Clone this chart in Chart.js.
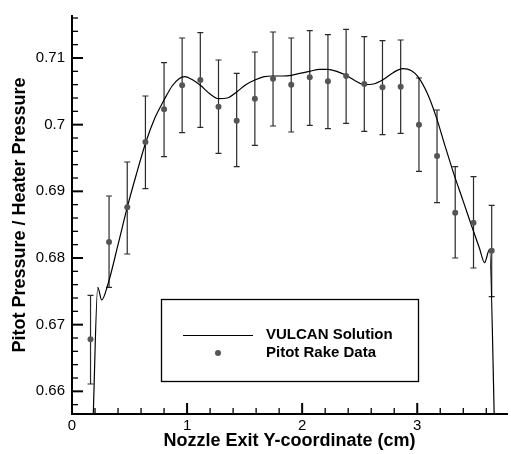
<!DOCTYPE html>
<html>
<head>
<meta charset="utf-8">
<script src="https://cdn.jsdelivr.net/npm/chart.js@4.4.1/dist/chart.umd.min.js"></script>
<style>
  html, body { margin: 0; padding: 0; background: #fff; }
  canvas { display: block; }
</style>
</head>
<body>
<canvas id="chart" width="511" height="454"></canvas>
<script>
// pitot rake measurements (cm, p/p0) with error bar ends
const rakeX = [0.161, 0.322, 0.48, 0.638, 0.80, 0.957, 1.115, 1.273, 1.431, 1.589, 1.747, 1.905,
  2.066, 2.224, 2.382, 2.54, 2.698, 2.856, 3.015, 3.172, 3.33, 3.489, 3.647];
const rakeY = [0.6678, 0.6824, 0.6876, 0.6974, 0.7023, 0.7059, 0.7067, 0.7027, 0.7006, 0.7039, 0.7069, 0.7060,
  0.7071, 0.7065, 0.7073, 0.7061, 0.7056, 0.7057, 0.7000, 0.6953, 0.6868, 0.6853, 0.6811];
const rakeHigh = [0.6744, 0.6893, 0.6944, 0.7043, 0.7093, 0.7130, 0.7138, 0.7097, 0.7077, 0.7109, 0.7139, 0.7130,
  0.7141, 0.7135, 0.7143, 0.7132, 0.7126, 0.7127, 0.7070, 0.7022, 0.6937, 0.6922, 0.6879];
const rakeLow = [0.6611, 0.6756, 0.6806, 0.6904, 0.6952, 0.6988, 0.6996, 0.6957, 0.6937, 0.6969, 0.6998, 0.6989,
  0.6999, 0.6994, 0.7002, 0.6990, 0.6985, 0.6987, 0.6930, 0.6883, 0.6800, 0.6785, 0.6742];

// VULCAN CFD profile
const vulcanX = [0.182, 0.224, 0.258, 0.313, 0.40, 0.48, 0.56, 0.642, 0.72, 0.80, 0.87, 0.93, 0.98, 1.04,
  1.115, 1.20, 1.273, 1.35, 1.431, 1.51, 1.589, 1.67, 1.747, 1.83, 1.905, 1.98, 2.066, 2.15, 2.224, 2.30,
  2.382, 2.46, 2.54, 2.62, 2.698, 2.79, 2.877, 2.95, 3.006, 3.09, 3.164, 3.24, 3.32, 3.40, 3.479, 3.54,
  3.585, 3.628, 3.675];
const vulcanY = [0.655, 0.6756, 0.6737, 0.6761, 0.6820, 0.6876, 0.6926, 0.6974, 0.7010, 0.7037, 0.7058, 0.7069,
  0.7072, 0.7068, 0.7059, 0.7046, 0.7039, 0.7040, 0.7049, 0.7060, 0.7067, 0.7072, 0.7073, 0.7073, 0.7074,
  0.7077, 0.7080, 0.7083, 0.7083, 0.7080, 0.7074, 0.7066, 0.7060, 0.7061, 0.7067, 0.7078, 0.7084, 0.7081,
  0.7072, 0.7046, 0.7012, 0.6969, 0.6925, 0.6885, 0.6845, 0.6815, 0.6793, 0.6813, 0.652];

const xTicks = [0, 1, 2, 3];
const yTicks = [0.66, 0.67, 0.68, 0.69, 0.70, 0.71];
const xMinorStep = 0.2;
const yMinorStep = 0.002;

const FONT = '"Liberation Sans", Arial, sans-serif';
Chart.defaults.font.family = FONT;
Chart.defaults.color = '#000';

function minorValues(min, max, step, majors) {
  const out = [];
  for (let v = Math.ceil(min / step - 1e-6) * step; v <= max + 1e-9; v += step) {
    const r = Math.round(v * 1e4) / 1e4;
    if (!majors.some(m => Math.abs(m - r) < 1e-6)) out.push(r);
  }
  return out;
}

const errorBars = {
  id: 'errorBars',
  beforeDatasetsDraw(chart) {
    const {ctx, chartArea, scales: {x, y}} = chart;
    ctx.save();
    ctx.beginPath();
    ctx.rect(chartArea.left, chartArea.top, chartArea.width, chartArea.height);
    ctx.clip();
    ctx.strokeStyle = '#2a2a2a';
    ctx.lineWidth = 1.2;
    rakeX.forEach((v, i) => {
      const px = x.getPixelForValue(v);
      const top = y.getPixelForValue(rakeHigh[i]);
      const bot = y.getPixelForValue(rakeLow[i]);
      ctx.beginPath();
      ctx.moveTo(px, top); ctx.lineTo(px, bot);
      ctx.moveTo(px - 3, top); ctx.lineTo(px + 3, top);
      ctx.moveTo(px - 3, bot); ctx.lineTo(px + 3, bot);
      ctx.stroke();
    });
    ctx.restore();
  }
};

const innerTicks = {
  id: 'innerTicks',
  afterDraw(chart) {
    const {ctx, chartArea: {left, bottom}, scales: {x, y}} = chart;
    ctx.save();
    ctx.strokeStyle = '#000';
    const tick = (x0, y0, x1, y1, w) => {
      ctx.lineWidth = w;
      ctx.beginPath(); ctx.moveTo(x0, y0); ctx.lineTo(x1, y1); ctx.stroke();
    };
    xTicks.forEach(v => { const p = x.getPixelForValue(v); tick(p, bottom, p, bottom - 11, 2); });
    minorValues(x.min, x.max, xMinorStep, xTicks).forEach(v => {
      const p = x.getPixelForValue(v); tick(p, bottom, p, bottom - 6, 1.3);
    });
    yTicks.forEach(v => { const p = y.getPixelForValue(v); tick(left, p, left + 11, p, 2); });
    minorValues(y.min, y.max, yMinorStep, yTicks).forEach(v => {
      const p = y.getPixelForValue(v); tick(left, p, left + 6, p, 1.3);
    });
    ctx.restore();
  }
};

const boxLegend = {
  id: 'boxLegend',
  afterDraw(chart) {
    const {ctx} = chart;
    ctx.save();
    ctx.fillStyle = '#fff';
    ctx.fillRect(161, 299, 257, 82);
    ctx.strokeStyle = '#000';
    ctx.lineWidth = 1.3;
    ctx.strokeRect(161.5, 299.5, 257, 82);
    ctx.lineWidth = 1.1;
    ctx.beginPath(); ctx.moveTo(183, 335.5); ctx.lineTo(253, 335.5); ctx.stroke();
    ctx.fillStyle = '#555';
    ctx.beginPath(); ctx.arc(218, 353, 3, 0, Math.PI * 2); ctx.fill();
    ctx.fillStyle = '#000';
    ctx.font = 'bold 15px ' + FONT;
    ctx.textBaseline = 'middle';
    ctx.fillText(chart.data.datasets[1].label, 266, 335);
    ctx.fillText(chart.data.datasets[0].label, 266, 352.5);
    ctx.restore();
  }
};

new Chart(document.getElementById('chart'), {
  type: 'scatter',
  data: {
    datasets: [{
      label: 'Pitot Rake Data',
      data: rakeX.map((v, i) => ({x: v, y: rakeY[i]})),
      pointRadius: 3,
      pointBackgroundColor: '#555',
      pointBorderWidth: 0,
      showLine: false,
    }, {
      label: 'VULCAN Solution',
      data: vulcanX.map((v, i) => ({x: v, y: vulcanY[i]})),
      showLine: true,
      pointRadius: 0,
      borderColor: '#000',
      borderWidth: 1.2,
      cubicInterpolationMode: 'monotone',
    }]
  },
  options: {
    responsive: false,
    animation: false,
    layout: {padding: {top: 14, right: 0, left: 0, bottom: 0}},
    plugins: {legend: {display: false}, tooltip: {enabled: false}},
    scales: {
      x: {
        type: 'linear',
        min: 0,
        max: 3.78,
        afterBuildTicks: s => { s.ticks = xTicks.map(v => ({value: v})); },
        afterFit: s => { s.height = 40; },
        grid: {display: false, drawTicks: false},
        border: {display: true, width: 2, color: '#000'},
        ticks: {padding: 3, font: {size: 15}, color: '#000', maxRotation: 0},
        title: {display: true, text: 'Nozzle Exit Y-coordinate (cm)', font: {size: 18, weight: 'bold'},
          padding: {top: 0, bottom: 2}},
      },
      y: {
        type: 'linear',
        min: 0.6566,
        max: 0.7163,
        afterBuildTicks: s => { s.ticks = yTicks.map(v => ({value: v})); },
        afterFit: s => { s.width = 72; },
        grid: {display: false, drawTicks: false},
        border: {display: true, width: 2, color: '#000'},
        ticks: {padding: 7, font: {size: 15}, color: '#000', callback: v => String(+v.toFixed(3))},
        title: {display: true, text: 'Pitot Pressure / Heater Pressure', font: {size: 18, weight: 'bold'},
          padding: {top: 9, bottom: 0}},
      }
    }
  },
  plugins: [errorBars, innerTicks, boxLegend]
});
</script>
</body>
</html>
